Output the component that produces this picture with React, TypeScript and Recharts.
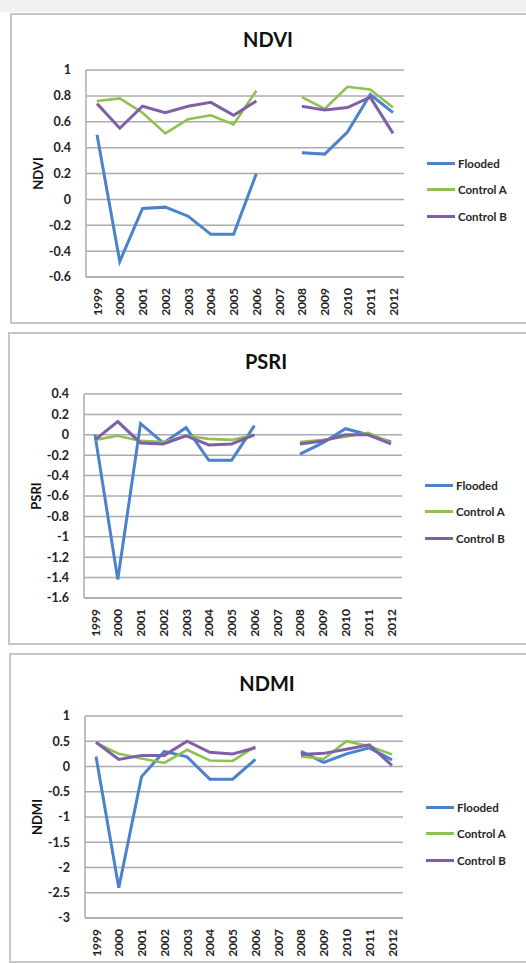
import React from "react";
import { LineChart, Line, XAxis, YAxis, CartesianGrid, Legend } from "recharts";

const years = ["1999", "2000", "2001", "2002", "2003", "2004", "2005", "2006", "2007", "2008", "2009", "2010", "2011", "2012"];

const ndviFlooded = [0.5, -0.48, -0.07, -0.06, -0.13, -0.27, -0.27, 0.2, null, 0.36, 0.35, 0.52, 0.81, 0.67];
const ndviControlA = [0.76, 0.78, 0.67, 0.51, 0.62, 0.65, 0.58, 0.84, null, 0.79, 0.7, 0.87, 0.85, 0.71];
const ndviControlB = [0.74, 0.55, 0.72, 0.67, 0.72, 0.75, 0.65, 0.76, null, 0.72, 0.69, 0.71, 0.79, 0.51];

const psriFlooded = [0.0, -1.42, 0.11, -0.08, 0.07, -0.25, -0.25, 0.09, null, -0.19, -0.08, 0.06, 0.0, -0.07];
const psriControlA = [-0.05, -0.01, -0.06, -0.07, -0.01, -0.04, -0.05, 0.0, null, -0.07, -0.05, -0.02, 0.02, -0.08];
const psriControlB = [-0.05, 0.13, -0.08, -0.09, -0.01, -0.1, -0.09, 0.0, null, -0.09, -0.06, 0.0, 0.0, -0.09];

const ndmiFlooded = [0.2, -2.4, -0.2, 0.3, 0.19, -0.25, -0.25, 0.14, null, 0.3, 0.08, 0.25, 0.37, 0.13];
const ndmiControlA = [0.47, 0.25, 0.16, 0.07, 0.33, 0.12, 0.11, 0.4, null, 0.2, 0.15, 0.5, 0.4, 0.24];
const ndmiControlB = [0.48, 0.14, 0.22, 0.22, 0.5, 0.28, 0.25, 0.37, null, 0.24, 0.26, 0.34, 0.43, 0.02];

const ndviTicks = [-0.6, -0.4, -0.2, 0, 0.2, 0.4, 0.6, 0.8, 1];
const psriTicks = [-1.6, -1.4, -1.2, -1, -0.8, -0.6, -0.4, -0.2, 0, 0.2, 0.4];
const ndmiTicks = [-3, -2.5, -2, -1.5, -1, -0.5, 0, 0.5, 1];

const seriesNames = ["Flooded", "Control A", "Control B"];
const colors = ["#4a82cc", "#8dc152", "#7f60a8"];
const grid = "#ababab";
const font = "Lato, 'Open Sans', sans-serif";

const makeRows = (a: (number | null)[], b: (number | null)[], c: (number | null)[]) =>
  years.map((year, i) => ({ year, flooded: a[i], controlA: b[i], controlB: c[i] }));

const YearTick = (props: any) => {
  const { x, y, payload } = props;
  const ty = y + 11;
  return (
    <text
      x={x}
      y={ty}
      transform={`rotate(-90 ${x} ${ty})`}
      textAnchor="end"
      dominantBaseline="central"
      fontSize={12}
      fontWeight={700}
      fill="#222"
      fontFamily={font}
    >
      {payload.value}
    </text>
  );
};

// keep the legend in series order (recharts sorts it by name otherwise)
const renderLegend = (props: any) => {
  const items = [...(props.payload || [])].sort(
    (a: any, b: any) => seriesNames.indexOf(a.value) - seriesNames.indexOf(b.value)
  );
  return (
    <div>
      {items.map((e: any) => (
        <div key={e.value} style={{ display: "flex", alignItems: "center", height: 26.5 }}>
          <span style={{ display: "inline-block", width: 28, height: 3, background: e.color, marginRight: 3 }} />
          <span style={{ fontSize: 11.5, fontWeight: 700, color: "#262626", fontFamily: font, whiteSpace: "nowrap" }}>
            {e.value}
          </span>
        </div>
      ))}
    </div>
  );
};

type PanelProps = {
  title: string;
  rows: any[];
  ticks: number[];
  top: number;
  boxLeft: number;
  height: number;
  plotTop: number;
  plotBottom: number;
  plotLeft: number;
  plotRight: number;
  titleX: number;
  titleY: number;
  legendX: number;
  legendY: number;
};

function Panel(p: PanelProps) {
  const yw = 50;
  const xh = 40;
  const margin = {
    top: p.plotTop - p.top,
    left: p.plotLeft - yw,
    right: 526 - p.plotRight,
    bottom: p.top + p.height - p.plotBottom - xh,
  };
  return (
    <>
      <div
        style={{
          position: "absolute",
          left: p.boxLeft,
          top: p.top,
          width: 560,
          height: p.height,
          border: "2px solid #c6c6c6",
          boxSizing: "border-box",
          background: "#fff",
        }}
      />
      <div
        style={{
          position: "absolute",
          left: p.titleX - 100,
          width: 200,
          top: p.titleY - 12,
          height: 24,
          lineHeight: "24px",
          textAlign: "center",
          fontSize: 20,
          fontWeight: 700,
          fontFamily: font,
          color: "#111",
        }}
      >
        {p.title}
      </div>
      <div style={{ position: "absolute", left: 0, top: p.top }}>
        <LineChart width={526} height={p.height} data={p.rows} margin={margin}>
          <CartesianGrid vertical={false} stroke={grid} strokeWidth={1.5} />
          <XAxis
            dataKey="year"
            interval={0}
            tickLine={false}
            tickSize={0}
            tickMargin={0}
            axisLine={{ stroke: grid, strokeWidth: 1.5 }}
            height={xh}
            padding={{ left: 11, right: 11 }}
            tick={<YearTick />}
          />
          <YAxis
            type="number"
            domain={[p.ticks[0], p.ticks[p.ticks.length - 1]]}
            ticks={p.ticks}
            interval={0}
            tickLine={false}
            tickSize={0}
            tickMargin={15}
            width={yw}
            axisLine={{ stroke: grid, strokeWidth: 1.5 }}
            tick={{ fontSize: 12.5, fontWeight: 700, fill: "#222", fontFamily: font }}
            label={{
              value: p.title,
              angle: -90,
              position: "insideLeft",
              offset: 2,
              style: { textAnchor: "middle", fontSize: 13, fontWeight: 700, fill: "#111", fontFamily: font },
            }}
          />
          <Legend
            layout="vertical"
            align="center"
            verticalAlign="middle"
            content={renderLegend}
            wrapperStyle={{ left: p.legendX, top: p.legendY - 13.25 - p.top, width: 100 }}
          />
          <Line type="linear" dataKey="flooded" name={seriesNames[0]} stroke={colors[0]} strokeWidth={3} dot={false} isAnimationActive={false} />
          <Line type="linear" dataKey="controlA" name={seriesNames[1]} stroke={colors[1]} strokeWidth={2.6} dot={false} isAnimationActive={false} />
          <Line type="linear" dataKey="controlB" name={seriesNames[2]} stroke={colors[2]} strokeWidth={3} dot={false} isAnimationActive={false} />
        </LineChart>
      </div>
    </>
  );
}

export default function App() {
  return (
    <div
      style={{
        position: "absolute",
        left: 0,
        top: 0,
        width: 526,
        height: 963,
        overflow: "hidden",
        background: "#fff",
        fontFamily: font,
      }}
    >
      <div style={{ position: "absolute", left: 0, top: 0, width: 526, height: 12, background: "#f1f1f1" }} />
      <Panel
        title="NDVI"
        rows={makeRows(ndviFlooded, ndviControlA, ndviControlB)}
        ticks={ndviTicks}
        top={13}
        boxLeft={10}
        height={311}
        plotTop={70}
        plotBottom={277}
        plotLeft={86}
        plotRight={404}
        titleX={268}
        titleY={38.5}
        legendX={427}
        legendY={163.3}
      />
      <Panel
        title="PSRI"
        rows={makeRows(psriFlooded, psriControlA, psriControlB)}
        ticks={psriTicks}
        top={332}
        boxLeft={8}
        height={313}
        plotTop={394}
        plotBottom={598}
        plotLeft={84}
        plotRight={402}
        titleX={266}
        titleY={360.5}
        legendX={425}
        legendY={485}
      />
      <Panel
        title="NDMI"
        rows={makeRows(ndmiFlooded, ndmiControlA, ndmiControlB)}
        ticks={ndmiTicks}
        top={653}
        boxLeft={9}
        height={310}
        plotTop={716}
        plotBottom={918}
        plotLeft={85}
        plotRight={403}
        titleX={267}
        titleY={683}
        legendX={426}
        legendY={807.3}
      />
    </div>
  );
}
